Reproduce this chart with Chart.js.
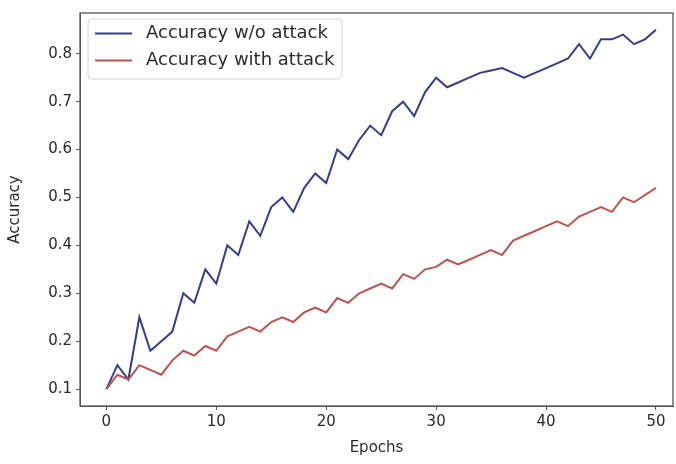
<!DOCTYPE html>
<html><head><meta charset="utf-8">
<script src="https://cdn.jsdelivr.net/npm/chart.js@4.4.1/dist/chart.umd.min.js"></script>
<style>html,body{margin:0;padding:0;background:#fff}#wrap{width:676px;height:464px}</style>
</head><body><div id="wrap"><canvas id="c" width="676" height="464"></canvas></div>
<script>
const epochs = [0,1,2,3,4,5,6,7,8,9,10,11,12,13,14,15,16,17,18,19,20,21,22,23,24,25,26,27,28,29,30,31,32,33,34,35,36,37,38,39,40,41,42,43,44,45,46,47,48,49,50];
const accNoAttack = [0.10,0.15,0.12,0.25,0.18,0.20,0.22,0.30,0.28,0.35,0.32,0.40,0.38,0.45,0.42,0.48,0.50,0.47,0.52,0.55,0.53,0.60,0.58,0.62,0.65,0.63,0.68,0.70,0.67,0.72,0.75,0.73,0.74,0.75,0.76,0.765,0.77,0.76,0.75,0.76,0.77,0.78,0.79,0.82,0.79,0.83,0.83,0.84,0.82,0.83,0.85];
const accAttack = [0.10,0.13,0.12,0.15,0.14,0.13,0.16,0.18,0.17,0.19,0.18,0.21,0.22,0.23,0.22,0.24,0.25,0.24,0.26,0.27,0.26,0.29,0.28,0.30,0.31,0.32,0.31,0.34,0.33,0.35,0.355,0.37,0.36,0.37,0.38,0.39,0.38,0.41,0.42,0.43,0.44,0.45,0.44,0.46,0.47,0.48,0.47,0.50,0.49,0.505,0.52];
const seriesLabels = ['Accuracy w/o attack', 'Accuracy with attack'];
const xTickValues = [0,10,20,30,40,50];
const yTickValues = [0.1,0.2,0.3,0.4,0.5,0.6,0.7,0.8];
const xTitle = 'Epochs';
const yTitle = 'Accuracy';

const FONT = "'DejaVu Sans', sans-serif";
const TXT = '#2b2b2b';
const colors = ['#363c8c', '#bb5450'];

const toPts = arr => epochs.map((e, i) => ({x: e, y: arr[i]}));

const framePlugin = {
  id: 'frame',
  afterDatasetsDraw(chart) {
    const {ctx, chartArea: a} = chart;
    ctx.save();
    ctx.strokeStyle = '#555';
    ctx.lineWidth = 1.3;
    ctx.strokeRect(a.left, a.top, a.right - a.left, a.bottom - a.top);
    ctx.restore();
  }
};

const legendPlugin = {
  id: 'innerLegend',
  afterDraw(chart) {
    const ctx = chart.ctx;
    const bx = 88, by = 19, bw = 254, bh = 60, r = 4;
    ctx.save();
    ctx.beginPath();
    ctx.moveTo(bx + r, by);
    ctx.arcTo(bx + bw, by, bx + bw, by + bh, r);
    ctx.arcTo(bx + bw, by + bh, bx, by + bh, r);
    ctx.arcTo(bx, by + bh, bx, by, r);
    ctx.arcTo(bx, by, bx + bw, by, r);
    ctx.closePath();
    ctx.fillStyle = 'rgba(255,255,255,0.85)';
    ctx.fill();
    ctx.strokeStyle = '#d4d4d4';
    ctx.lineWidth = 1;
    ctx.stroke();
    chart.data.datasets.forEach((ds, i) => {
      const y = 33.5 + i * 27;
      ctx.strokeStyle = ds.borderColor;
      ctx.lineWidth = 2;
      ctx.beginPath();
      ctx.moveTo(95, y);
      ctx.lineTo(132, y);
      ctx.stroke();
      ctx.fillStyle = TXT;
      ctx.font = '18px ' + FONT;
      ctx.textBaseline = 'middle';
      ctx.textAlign = 'left';
      ctx.fillText(ds.label, 146, y);
    });
    ctx.restore();
  }
};

new Chart(document.getElementById('c'), {
  type: 'line',
  data: {
    datasets: [
      {label: seriesLabels[0], data: toPts(accNoAttack), borderColor: colors[0], backgroundColor: colors[0], borderWidth: 2, pointRadius: 0, tension: 0, order: 1},
      {label: seriesLabels[1], data: toPts(accAttack), borderColor: colors[1], backgroundColor: colors[1], borderWidth: 2, pointRadius: 0, tension: 0, order: 0}
    ]
  },
  options: {
    responsive: false,
    animation: false,
    devicePixelRatio: 1,
    layout: {padding: {top: 10, right: 3, left: 0, bottom: 0}},
    plugins: {legend: {display: false}, tooltip: {enabled: false}},
    scales: {
      x: {
        type: 'linear', min: -2.4, max: 51.55,
        afterBuildTicks: s => { s.ticks = xTickValues.map(v => ({value: v})); },
        afterFit: s => { s.height = 58; },
        grid: {drawOnChartArea: false, drawTicks: true, tickLength: 4, tickColor: '#555', tickWidth: 1},
        border: {display: true, color: '#555', width: 1},
        ticks: {font: {family: FONT, size: 15}, color: TXT, padding: 3, maxRotation: 0, callback: v => String(v)},
        title: {display: true, text: xTitle, font: {family: FONT, size: 15}, color: TXT, padding: {top: 0, bottom: 7}}
      },
      y: {
        type: 'linear', min: 0.0647, max: 0.885,
        afterBuildTicks: s => { s.ticks = yTickValues.map(v => ({value: v})); },
        afterFit: s => { s.width = 80; },
        grid: {drawOnChartArea: false, drawTicks: true, tickLength: 4, tickColor: '#555', tickWidth: 1},
        border: {display: true, color: '#555', width: 1},
        ticks: {font: {family: FONT, size: 15}, color: TXT, padding: 4, callback: v => v.toFixed(1)},
        title: {display: true, text: yTitle, font: {family: FONT, size: 15}, color: TXT, padding: {top: 6, bottom: 0}}
      }
    }
  },
  plugins: [framePlugin, legendPlugin]
});
</script>
</body></html>
